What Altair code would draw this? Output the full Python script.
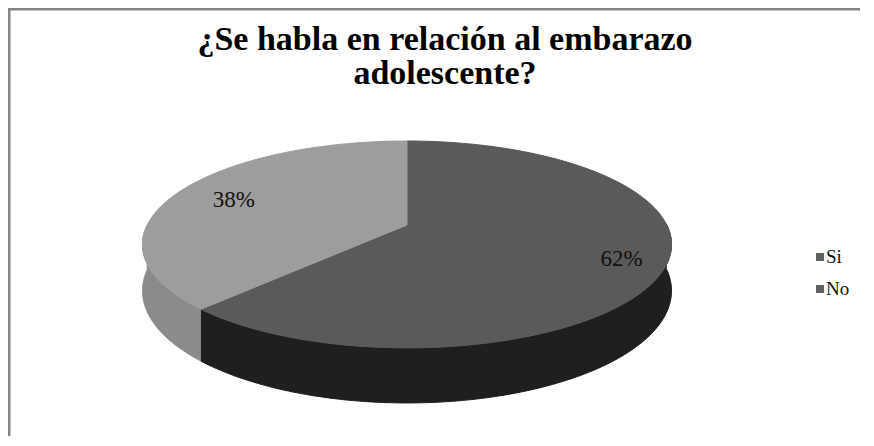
import altair as alt
import numpy as np
import pandas as pd

# ---- data ----
categories = ["Si", "No"]
values = [62, 38]
title_lines = ["¿Se habla en relación al embarazo", "adolescente?"]

# ---- styles ----
top_colors = ["#5a5a5a", "#9d9d9d"]
side_colors = ["#1f1f1f", "#8b8b8b"]
legend_color = "#5f5f5f"
border_color = "#858585"
SERIF = "Liberation Serif"

# ---- layout (chart pixel space) ----
W, H = 852, 428
CX, CY = 399.0, 217.0      # projected pie apex
A, B = 259.8, 99.8         # horizontal / vertical radius of the tilted disc
KP = 0.188                 # perspective factor
HT = 44.7                  # pie thickness
N = 120                    # arc resolution

total = sum(values)
cum = np.concatenate([[0.0], np.cumsum(values)]) / total

top_rows, side_rows, lab_rows = [], [], []
for i, c in enumerate(categories):
    base = {"category": c, "value": values[i], "start": float(cum[i]), "end": float(cum[i + 1])}
    lab_rows.append(dict(base))
    for k in range(-1, N + 2):
        top_rows.append({**base, "k": k})
    for part in (0, 1):
        for k in range(0, N + 1):
            side_rows.append({**base, "k": k, "part": part})

top_df = pd.DataFrame(top_rows)
side_df = pd.DataFrame(side_rows)
lab_df = pd.DataFrame(lab_rows)
leg_df = pd.DataFrame({"category": categories})
one = pd.DataFrame({"a": [0]})

xs = alt.Scale(domain=[0, W], nice=False, zero=False)
ys = alt.Scale(domain=[0, H], nice=False, zero=False, reverse=True)

proj_x = f"{CX} + {A} * datum.X / datum.w"
proj_y = f"{CY} - {B} * datum.Z / datum.w"

# top faces
top = alt.Chart(top_df).transform_calculate(
    r="(datum.k < 0 || datum.k > %d) ? 0 : 1" % N,
    t="clamp(datum.k, 0, %d) / %d" % (N, N),
).transform_calculate(
    theta="2 * PI * (datum.start + (datum.end - datum.start) * datum.t)"
).transform_calculate(
    X="datum.r * sin(datum.theta)", Z="datum.r * cos(datum.theta)"
).transform_calculate(
    w=f"1 + {KP} * datum.Z"
).transform_calculate(
    px=proj_x, py=proj_y
).mark_line(strokeWidth=1, interpolate="linear").encode(
    x=alt.X("px:Q", scale=xs, axis=None),
    y=alt.Y("py:Q", scale=ys, axis=None),
    fill=alt.Fill("category:N", scale=alt.Scale(domain=categories, range=top_colors), legend=None),
    stroke=alt.Stroke("category:N", scale=alt.Scale(domain=categories, range=top_colors), legend=None),
    order=alt.Order("k:Q"),
)

# visible side walls (front half of the disc)
side = alt.Chart(side_df).transform_calculate(
    lo="max(datum.start, 0.25)", hi="min(datum.end, 0.75)"
).transform_filter("datum.hi > datum.lo").transform_calculate(
    theta="2 * PI * (datum.lo + (datum.hi - datum.lo) * datum.k / %d)" % N,
    ord="datum.part == 0 ? datum.k : %d - datum.k" % (2 * N + 1),
).transform_calculate(
    X="sin(datum.theta)", Z="cos(datum.theta)"
).transform_calculate(
    w=f"1 + {KP} * datum.Z"
).transform_calculate(
    px=proj_x, py=proj_y + f" + datum.part * {HT} / datum.w"
).mark_line(strokeWidth=1).encode(
    x=alt.X("px:Q", scale=xs, axis=None),
    y=alt.Y("py:Q", scale=ys, axis=None),
    fill=alt.Fill("category:N", scale=alt.Scale(domain=categories, range=side_colors), legend=None),
    stroke=alt.Stroke("category:N", scale=alt.Scale(domain=categories, range=side_colors), legend=None),
    order=alt.Order("ord:Q"),
)

# percentage labels
labels = alt.Chart(lab_df).transform_calculate(
    theta="PI * (datum.start + datum.end)", r="0.8"
).transform_calculate(
    X="datum.r * sin(datum.theta)", Z="datum.r * cos(datum.theta)"
).transform_calculate(
    w=f"1 + {KP} * datum.Z"
).transform_calculate(
    px=proj_x, py=proj_y, txt="datum.value + '%'"
).mark_text(font="Times New Roman", fontSize=23, color="#111111", baseline="middle",
            align="center", dx=10, dy=3).encode(
    x=alt.X("px:Q", scale=xs, axis=None),
    y=alt.Y("py:Q", scale=ys, axis=None),
    text="txt:N",
)

# title
title = alt.Chart(one).mark_text(
    text=title_lines, font=SERIF, fontSize=34, fontWeight="bold", color="#000000",
    align="center", baseline="alphabetic", lineHeight=34,
).encode(x=alt.value(437), y=alt.value(42))

# legend (manual, both markers drawn in the same grey as in the reference)
leg_y = alt.Y("category:N", scale=alt.Scale(type="point", domain=categories, range=[249, 281], padding=0), axis=None)
leg_sq = alt.Chart(leg_df).mark_square(size=64, color=legend_color, opacity=1).encode(
    x=alt.value(812), y=leg_y
)
leg_txt = alt.Chart(leg_df).mark_text(font=SERIF, fontSize=19, align="left", baseline="middle", color="#111111").encode(
    x=alt.value(818), y=leg_y, text="category:N"
)

# border (only top and left edges visible in the reference), drawn as thin filled bands
b_left = alt.Chart(one).mark_rect(color=border_color, strokeWidth=0).encode(
    x=alt.value(0), x2=alt.value(2.5), y=alt.value(0), y2=alt.value(H)
)
b_top = alt.Chart(one).mark_rect(color=border_color, strokeWidth=0).encode(
    x=alt.value(0), x2=alt.value(W), y=alt.value(0), y2=alt.value(2.5)
)

chart = alt.layer(
    side, top, labels, title, leg_sq, leg_txt, b_left, b_top
).resolve_scale(
    y="independent", fill="independent", stroke="independent"
).properties(
    width=W, height=H, padding=0,
    autosize=alt.AutoSizeParams(type="none"),
    background="white",
).configure_view(stroke="transparent", strokeWidth=0)

chart.save("out.html", embed_options={"renderer": "svg", "actions": False})
